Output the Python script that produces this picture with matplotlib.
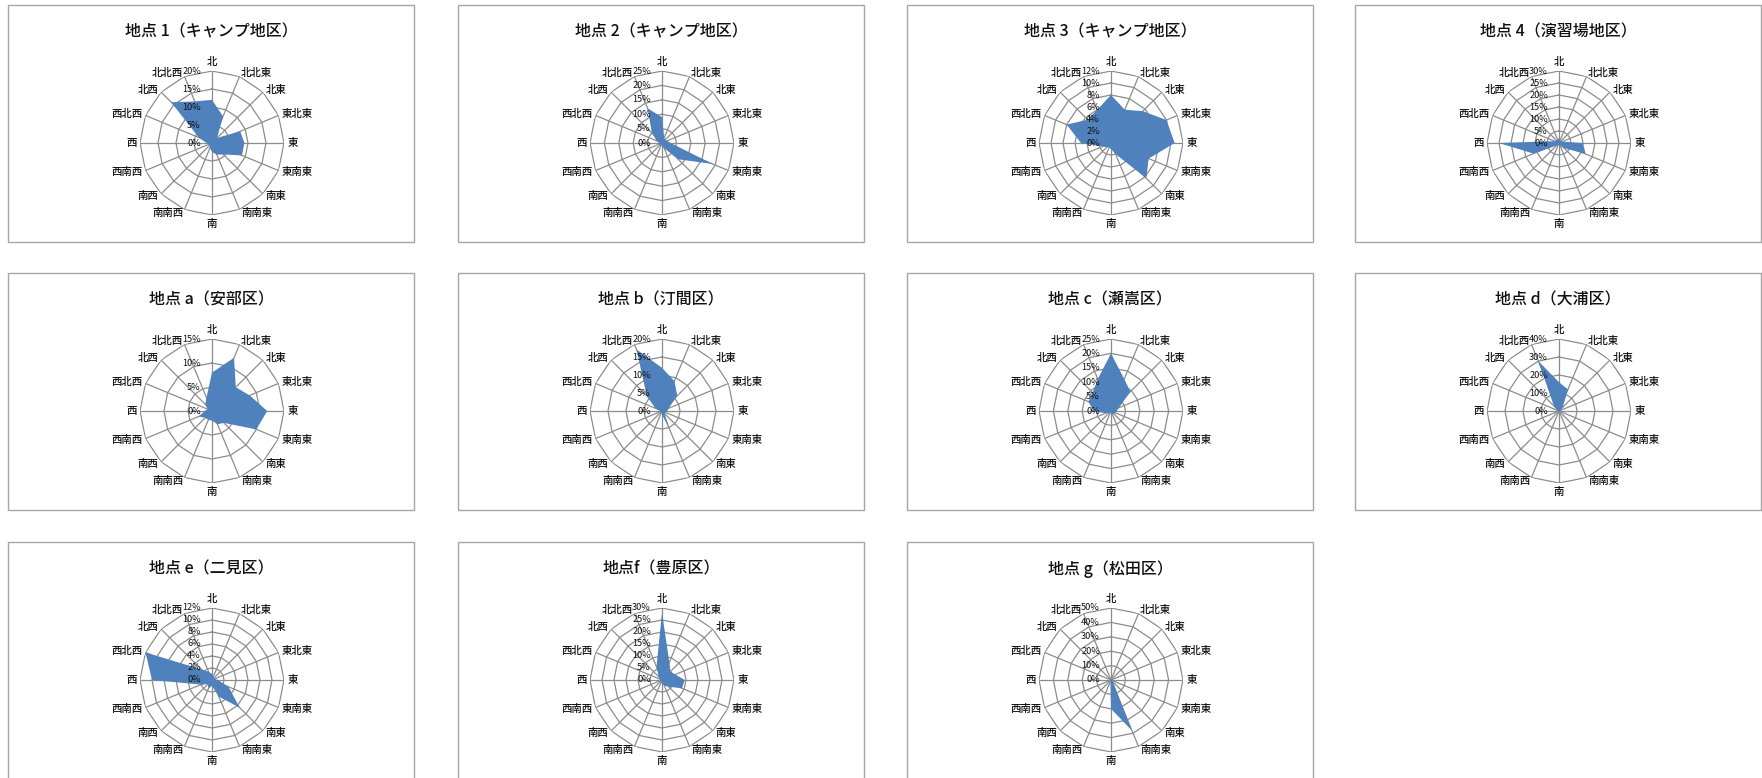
import numpy as np
import matplotlib.pyplot as plt
from matplotlib.patches import Rectangle

plt.rcParams['font.family'] = ['Noto Sans CJK JP', 'DejaVu Sans']

# 16 wind directions, clockwise from north
directions = ['北', '北北東', '北東', '東北東', '東', '東南東', '南東', '南南東',
              '南', '南南西', '南西', '西南西', '西', '西北西', '北西', '北北西']

titles = ['地点 1（キャンプ地区）', '地点 2（キャンプ地区）', '地点 3（キャンプ地区）',
          '地点 4（演習場地区）', '地点 a（安部区）', '地点 b（汀間区）', '地点 c（瀬嵩区）',
          '地点 d（大浦区）', '地点 e（二見区）', '地点f（豊原区）', '地点 g（松田区）']

# frequency (%) per direction, same order as `directions`
site_1 = [12, 8, 2, 8.5, 9, 9, 4.5, 3.5, 2.5, 1.5, 1, 1, 1.5, 4, 16, 12.5]
site_2 = [9, 2, 1.5, 2, 3, 19, 8, 2, 1, 1, 1, 1, 1, 2, 5, 13]
site_3 = [8, 6, 7.5, 10, 10.6, 6.8, 8.3, 2, 1, 0.8, 1, 1.5, 5, 8, 5.5, 6]
site_4 = [2, 1, 1, 1.5, 10, 12, 3, 1, 1, 1, 1.5, 11.5, 25, 2, 1.5, 1.5]
site_a = [8, 12, 7, 8.5, 11.5, 10, 3.5, 3, 2, 2, 2, 3, 1.5, 1, 2, 3]
site_b = [12, 9, 6, 2, 1.5, 1, 1, 5, 1, 0.5, 0.5, 0.5, 0.5, 2, 6, 18.5]
site_c = [20, 12, 9.5, 3, 2, 1.5, 1.5, 1, 1, 0.5, 1, 2, 6, 8.5, 9, 12]
site_d = [16, 13, 3, 1, 1, 0.5, 0.5, 0.5, 0.5, 0.5, 0.5, 0.5, 0.5, 1, 4, 30]
site_e = [1, 0.5, 0.5, 0.5, 1, 3, 6.5, 3, 1, 1.5, 1, 2, 10, 12, 2.5, 1.5]
site_f = [28, 8, 5, 6, 9.5, 9, 4, 2.5, 1.5, 1, 0.5, 0.5, 1, 1, 2, 6]
site_g = [0.5, 0.5, 0.5, 0.5, 0.5, 0.5, 2, 38, 20, 1, 0.5, 0.5, 0.5, 0.5, 0.5, 0.5]

axis_max = [20, 25, 12, 30, 15, 20, 25, 40, 12, 30, 50]
axis_step = [5, 5, 2, 5, 5, 5, 5, 10, 2, 5, 10]

series = [site_1, site_2, site_3, site_4, site_a, site_b, site_c,
          site_d, site_e, site_f, site_g]

W, H = 1762, 778
fig = plt.figure(figsize=(W / 100, H / 100), dpi=100)

col_left = [8, 458, 907, 1355]
row_top = [5, 273, 542]
box_w, box_h = 406, 237
R = 72
grid_col = '#8c8c8c'
fill_col = '#4F81BD'
txt_col = '#111111'

theta = np.arange(len(directions)) * 2 * np.pi / len(directions)
theta_c = np.append(theta, theta[0])

for i, vals in enumerate(series):
    row, col = divmod(i, 4)
    left, top = col_left[col], row_top[row]
    cx, cy = left + 204, top + 138

    fig.add_artist(Rectangle((left / W, 1 - (top + box_h) / H), box_w / W, box_h / H,
                             transform=fig.transFigure, fill=False,
                             ec='#a6a6a6', lw=1))
    fig.text((left + box_w / 2) / W, 1 - (top + 27) / H, titles[i],
             ha='center', va='center', fontsize=11.5, fontweight='medium',
             color=txt_col)

    ax = fig.add_axes([(cx - R) / W, 1 - (cy + R) / H, 2 * R / W, 2 * R / H],
                      projection='polar')
    ax.set_theta_zero_location('N')
    ax.set_theta_direction(-1)
    vmax = axis_max[i]
    step = axis_step[i]
    ax.set_ylim(0, vmax)
    ax.set_axis_off()

    levels = np.arange(0, vmax + step / 2, step)
    for lev in levels[1:]:
        ax.plot(theta_c, [lev] * len(theta_c), color=grid_col, lw=0.9, zorder=1)
    for t in theta:
        ax.plot([t, t], [0, vmax], color=grid_col, lw=0.9, zorder=1)

    ax.fill(theta_c, list(vals) + [vals[0]], color=fill_col, lw=0, zorder=2)

    for lev in levels:
        ax.annotate(f'{int(lev)}%', xy=(0, lev), xytext=(-8, 0),
                    textcoords='offset points', ha='right', va='center',
                    fontsize=6.6, color=txt_col, zorder=3)

    for t, name in zip(theta, directions):
        s, c = np.sin(t), np.cos(t)
        if abs(s) < 1e-6:
            ha, va = 'center', ('bottom' if c > 0 else 'top')
        else:
            ha, va = ('left' if s > 0 else 'right'), 'center'
        ax.text(t, vmax * 1.05, name, ha=ha, va=va, fontsize=7.5,
                fontweight='medium', color=txt_col, zorder=3)

fig.savefig('out.png', dpi=100, facecolor='white')
